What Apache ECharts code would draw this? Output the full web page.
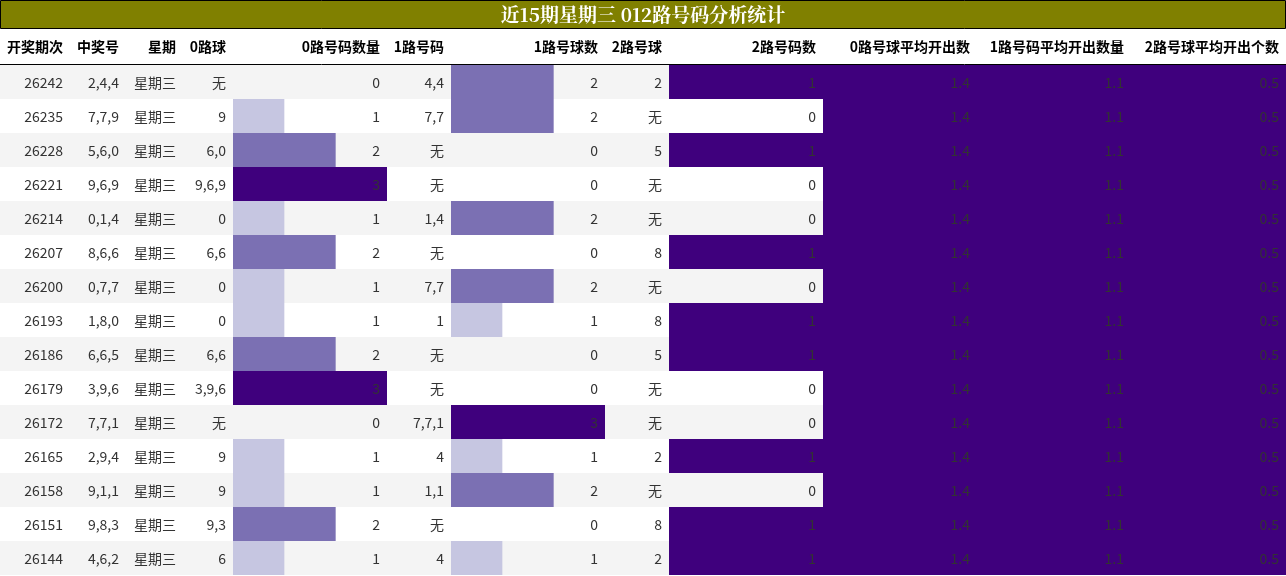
<!DOCTYPE html>
<html><head><meta charset="utf-8">
<script src="https://cdn.jsdelivr.net/npm/echarts@6/dist/echarts.min.js"></script>
<style>html,body{margin:0;padding:0;background:#fff}#c{width:1286px;height:576px}</style>
</head><body><div id="c"></div>
<script>
const title = '近15期星期三 012路号码分析统计';
const headers = ['开奖期次','中奖号','星期','0路球','0路号码数量','1路号码','1路号球数','2路号球','2路号码数','0路号球平均开出数','1路号码平均开出数量','2路号球平均开出个数'];
const periods = ['26242','26235','26228','26221','26214','26207','26200','26193','26186','26179','26172','26165','26158','26151','26144'];
const nums = ['2,4,4','7,7,9','5,6,0','9,6,9','0,1,4','8,6,6','0,7,7','1,8,0','6,6,5','3,9,6','7,7,1','2,9,4','9,1,1','9,8,3','4,6,2'];
const weekday = '星期三';
const zeroBalls = ['无','9','6,0','9,6,9','0','6,6','0','0','6,6','3,9,6','无','9','9','9,3','6'];
const zeroCnt = [0,1,2,3,1,2,1,1,2,3,0,1,1,2,1];
const oneBalls = ['4,4','7,7','无','无','1,4','无','7,7','1','无','无','7,7,1','4','1,1','无','4'];
const oneCnt = [2,2,0,0,2,0,2,1,0,0,3,1,2,0,1];
const twoBalls = ['2','无','5','无','无','8','无','8','5','无','无','2','无','8','2'];
const twoCnt = [1,0,1,0,0,1,0,1,1,0,0,1,0,1,1];
const avgZero = 1.4, avgOne = 1.1, avgTwo = 0.5;

const W = 1286, TOP = 65, RH = 34, N = periods.length;
const colEdges = [0,70,126,183,233,387,451,605,669,823,977,1131,1286];
const rep = v => periods.map(() => v);
const cols = [periods, nums, rep(weekday), zeroBalls, zeroCnt.map(String), oneBalls, oneCnt.map(String), twoBalls, twoCnt.map(String), rep(avgZero.toFixed(1)), rep(avgOne.toFixed(1)), rep(avgTwo.toFixed(1))];
const barCols = [
  {c:4, data:zeroCnt, max:3},
  {c:6, data:oneCnt, max:3},
  {c:8, data:twoCnt, max:1},
  {c:9, data:rep(avgZero), max:avgZero},
  {c:10, data:rep(avgOne), max:avgOne},
  {c:11, data:rep(avgTwo), max:avgTwo}
];
function colorFor(v, max){
  const r = v / max;
  if (r >= 0.99) return '#3f007d';
  if (r >= 0.6) return '#7b70b3';
  return '#c6c6e1';
}
const grids = [], xAxes = [], yAxes = [], series = [];
barCols.forEach((b, i) => {
  grids.push({left: colEdges[b.c], width: colEdges[b.c+1]-colEdges[b.c], top: TOP, height: RH*N});
  xAxes.push({type:'value', min:0, max:b.max, show:false, gridIndex:i});
  yAxes.push({type:'category', data:periods, inverse:true, show:false, gridIndex:i});
  series.push({type:'bar', xAxisIndex:i, yAxisIndex:i, barWidth:'100%', barCategoryGap:0, z:2,
    data:b.data.map(v => ({value:v, itemStyle:{color:colorFor(v,b.max)}}))});
});
const g = [];
g.push({type:'rect', shape:{x:0.5,y:0.5,width:W-1,height:28}, style:{fill:'#808000', stroke:'#000', lineWidth:1}, z:0});
g.push({type:'text', x:W/2, y:15, style:{text:title, fill:'#fff', font:'bold 19px "Noto Serif CJK SC", "Noto Sans CJK SC", serif', align:'center', verticalAlign:'middle'}, z:100});
for (let r=0;r<N;r++){
  g.push({type:'rect', shape:{x:0,y:TOP+r*RH,width:W,height:RH}, style:{fill: r%2===0?'#f4f4f4':'#ffffff'}, z:0, silent:true});
}
g.push({type:'line', shape:{x1:0,y1:TOP-0.5,x2:W,y2:TOP-0.5}, style:{stroke:'#000', lineWidth:1}, z:100});
headers.forEach((h,c) => {
  g.push({type:'text', x:colEdges[c+1]-7, y:47, style:{text:h, fill:'#000', font:'bold 14px "Noto Sans CJK SC", sans-serif', align:'right', verticalAlign:'middle'}, z:100});
});
cols.forEach((col,c) => {
  col.forEach((t,r) => {
    g.push({type:'text', x:colEdges[c+1]-7, y:TOP+r*RH+RH/2+1, style:{text:t, fill:'#333', font:'14px "Noto Sans CJK SC", sans-serif', align:'right', verticalAlign:'middle'}, z:100});
  });
});
const chart = echarts.init(document.getElementById('c'));
chart.setOption({animation:false, grid:grids, xAxis:xAxes, yAxis:yAxes, series:series, graphic:{elements:g}});
</script></body></html>
